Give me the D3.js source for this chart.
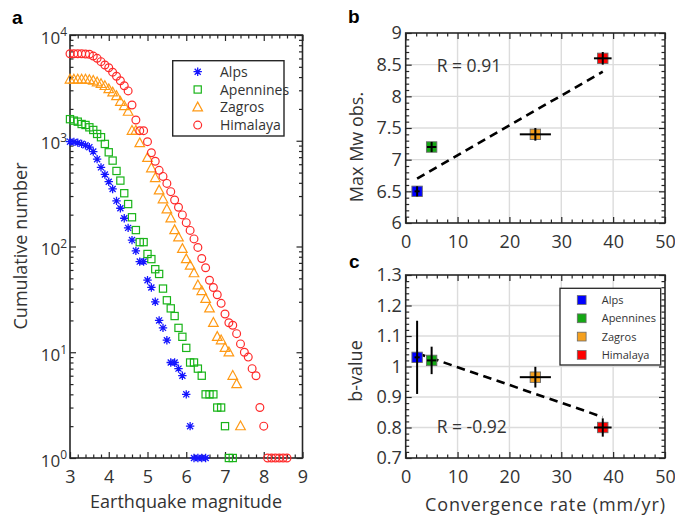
<!DOCTYPE html>
<html>
<head>
<meta charset="utf-8">
<script src="https://cdn.jsdelivr.net/npm/d3@7"></script>
<style>
  body { margin: 0; background: #fff; }
  text { font-family: "Open Sans", Lato, sans-serif; fill: #333; }
  .panel-tag { font-family: "Liberation Sans", Arial, sans-serif; font-weight: bold; fill: #000; }
</style>
</head>
<body>
<svg id="fig" width="675" height="517"></svg>
<script>
// ---------- data ----------
const regions = ["Alps", "Apennines", "Zagros", "Himalaya"];

// Cumulative number of events N(>=M) per catalogue
const alpsMag = [3.0,3.1,3.2,3.3,3.4,3.5,3.6,3.7,3.8,3.9,4.0,4.1,4.2,4.3,4.4,4.5,4.6,4.7,4.8,4.9,
                 5.0,5.1,5.2,5.3,5.4,5.5,5.6,5.7,5.8,5.9,6.0,6.1,6.2,6.3,6.4,6.5];
const alpsCount = [980,975,960,935,905,870,790,670,560,480,410,350,270,230,185,150,115,91,72,72,
                   48,41,30,20,17,13,8,8,7,6,4,2,1,1,1,1];

const apenninesMag = [3.0,3.1,3.2,3.3,3.4,3.5,3.6,3.7,3.8,3.9,4.0,4.1,4.2,4.3,4.4,4.5,4.6,4.7,4.8,4.9,
                      5.0,5.1,5.2,5.3,5.4,5.5,5.6,5.7,5.8,5.9,6.0,6.1,6.2,6.3,6.4,6.5,6.6,6.7,6.8,6.9,
                      7.0,7.1,7.2];
const apenninesCount = [1600,1550,1515,1440,1410,1340,1265,1160,1080,933,778,649,518,420,319,252,189,143,110,110,
                        85,76,61,55,40,31,26,22,17,14,11,8,8,7,6,4,4,4,3,3,
                        2,1,1];

const zagrosMag = [3.0,3.1,3.2,3.3,3.4,3.5,3.6,3.7,3.8,3.9,4.0,4.1,4.2,4.3,4.4,4.5,4.6,4.7,4.8,
                   5.0,5.1,5.2,5.3,5.4,5.5,5.6,5.7,5.8,5.9,6.0,6.1,6.2,6.3,6.4,6.5,6.6,6.7,6.8,6.9,
                   7.0,7.1,7.2,7.3,7.4];
const zagrosCount = [3800,3800,3800,3800,3800,3760,3700,3580,3450,3300,3080,2870,2650,2340,2130,1885,1245,1245,950,
                     690,550,445,340,280,225,185,143,122,95,76,66,56,43,38,32,26,19,14,13,
                     11,10,6,5,2];

const himalayaMag = [3.0,3.1,3.2,3.3,3.4,3.5,3.6,3.7,3.8,3.9,4.0,4.1,4.2,4.3,4.4,4.5,4.6,4.7,4.8,4.9,
                     5.0,5.1,5.2,5.3,5.4,5.5,5.6,5.7,5.8,5.9,6.0,6.1,6.2,6.3,6.4,6.5,6.6,6.7,6.8,6.9,
                     7.0,7.1,7.2,7.3,7.4,7.5,7.6,7.7,7.8,7.9,8.0,8.1,8.2,8.3,8.4,8.5,8.6];
const himalayaCount = [6650,6650,6650,6650,6620,6570,6320,6020,5600,5200,4900,4450,4070,3690,3310,2960,2180,1570,1245,1245,
                       980,770,640,525,460,395,330,275,235,199,168,142,118,98,77,63,48,41,35,29,
                       23,19,18,15,12,10,9,7,6,3,2,1,1,1,1,1,1];

// Per-region summary values
const convergenceRate = [2.2, 5, 25, 38];       // mm/yr
const convergenceErr  = [0.5, 0.9, 3, 1.7];
const maxMw           = [6.5, 7.2, 7.4, 8.6];
const maxMwErr        = [0.08, 0.08, 0.1, 0.1];
const bValue          = [1.03, 1.02, 0.965, 0.80];
const bValueErr       = [0.12, 0.045, 0.034, 0.03];

const rLabelB = "R = 0.91";
const rLabelC = "R = -0.92";

// tick values
const magTicks = [3, 4, 5, 6, 7, 8, 9];
const countTicks = [1, 10, 100, 1000, 10000];
const rateTicks = [0, 10, 20, 30, 40, 50];
const mwTicks = [6, 6.5, 7, 7.5, 8, 8.5, 9];
const bTicks = [0.7, 0.8, 0.9, 1, 1.1, 1.2, 1.3];

// ---------- styling ----------
const INK = "#262626";
const FONT = "'Open Sans', Lato, sans-serif";
const lineColors = ["#1515ff", "#19b419", "#ff9a16", "#ff2a2a"];
const fillColors = ["#0000ff", "#14a814", "#f5a01e", "#ff0000"];

const svg = d3.select("#fig");

function styleAxis(g, fontSize) {
  g.select(".domain").remove();
  g.selectAll(".tick line").attr("stroke", INK).attr("stroke-width", 1.2);
  g.selectAll(".tick text").attr("fill", "#333").style("font-size", fontSize + "px")
    .style("font-family", FONT);
}

// draw major + minor inward ticks on all four sides of a box
function boxAxes(x, y, opts) {
  const [x0, x1] = x.range();
  const [y1, y0] = y.range();
  const g = svg.append("g");
  const fs = opts.fontSize;

  // bottom with labels
  const b = g.append("g").attr("transform", `translate(0,${y1})`)
    .call(d3.axisBottom(x).tickValues(opts.xMajor).tickSize(-opts.major).tickPadding(12)
      .tickFormat(opts.xFormat || (d => d)));
  styleAxis(b, fs);
  const bm = g.append("g").attr("transform", `translate(0,${y1})`)
    .call(d3.axisBottom(x).tickValues(opts.xMinor).tickSize(-opts.minor).tickFormat(""));
  styleAxis(bm, fs);
  // top
  const t = g.append("g").attr("transform", `translate(0,${y0})`)
    .call(d3.axisTop(x).tickValues(opts.xMajor).tickSize(-opts.major).tickFormat(""));
  styleAxis(t, fs);
  const tm = g.append("g").attr("transform", `translate(0,${y0})`)
    .call(d3.axisTop(x).tickValues(opts.xMinor).tickSize(-opts.minor).tickFormat(""));
  styleAxis(tm, fs);
  // left with labels
  const l = g.append("g").attr("transform", `translate(${x0},0)`)
    .call(d3.axisLeft(y).tickValues(opts.yMajor).tickSize(-opts.major).tickPadding(opts.yPad)
      .tickFormat(opts.yFormat || (d => d)));
  styleAxis(l, fs);
  const lm = g.append("g").attr("transform", `translate(${x0},0)`)
    .call(d3.axisLeft(y).tickValues(opts.yMinor).tickSize(-opts.minor).tickFormat(""));
  styleAxis(lm, fs);
  // right
  const r = g.append("g").attr("transform", `translate(${x1},0)`)
    .call(d3.axisRight(y).tickValues(opts.yMajor).tickSize(-opts.major).tickFormat(""));
  styleAxis(r, fs);
  const rm = g.append("g").attr("transform", `translate(${x1},0)`)
    .call(d3.axisRight(y).tickValues(opts.yMinor).tickSize(-opts.minor).tickFormat(""));
  styleAxis(rm, fs);

  // frame
  g.append("rect").attr("x", x0).attr("y", y0).attr("width", x1 - x0).attr("height", y1 - y0)
    .attr("fill", "none").attr("stroke", INK).attr("stroke-width", 1.6);
  return { left: l };
}

function grid(x, y, xs, ys) {
  const [x0, x1] = x.range();
  const [y1, y0] = y.range();
  const g = svg.append("g").attr("stroke", "#dcdcdc").attr("stroke-width", 1.4);
  g.selectAll(".gx").data(xs).join("line")
    .attr("x1", d => x(d)).attr("x2", d => x(d)).attr("y1", y0).attr("y2", y1);
  g.selectAll(".gy").data(ys).join("line")
    .attr("x1", x0).attr("x2", x1).attr("y1", d => y(d)).attr("y2", d => y(d));
}

// marker shapes for the magnitude-frequency panel
function marker(sel, kind, color) {
  if (kind === 0) {           // asterisk
    const s = 4.2, d = s * 0.72;
    sel.append("path")
      .attr("d", `M${-s},0H${s}M0,${-s}V${s}M${-d},${-d}L${d},${d}M${-d},${d}L${d},${-d}`)
      .attr("stroke", color).attr("stroke-width", 1.3).attr("fill", "none");
  } else if (kind === 1) {    // open square
    sel.append("rect").attr("x", -3.6).attr("y", -3.6).attr("width", 7.2).attr("height", 7.2)
      .attr("fill", "none").attr("stroke", color).attr("stroke-width", 1.2);
  } else if (kind === 2) {    // open triangle
    sel.append("path").attr("d", "M0,-5.2L4.8,3.6L-4.8,3.6Z")
      .attr("fill", "none").attr("stroke", color).attr("stroke-width", 1.2);
  } else {                    // open circle
    sel.append("circle").attr("r", 3.9)
      .attr("fill", "none").attr("stroke", color).attr("stroke-width", 1.2);
  }
}

// ---------- panel a ----------
const xA = d3.scaleLinear().domain([3, 9]).range([70, 302.5]);
const yA = d3.scaleLog().domain([1, 10000]).range([458, 35]);

const minorMag = d3.range(3, 9.0001, 0.2).filter(v => Math.abs(v - Math.round(v)) > 1e-6);
const minorCount = [];
[1, 10, 100, 1000].forEach(dec => { for (let k = 2; k <= 9; k++) minorCount.push(k * dec); });

const axA = boxAxes(xA, yA, {
  xMajor: magTicks, xMinor: minorMag, yMajor: countTicks, yMinor: minorCount,
  major: 6, minor: 3.5, fontSize: 18, yPad: 3, yFormat: () => ""
});
// power-of-ten labels
axA.left.selectAll(".tick text").each(function (d) {
  const t = d3.select(this).attr("dy", "0.48em").style("font-size", "17px");
  t.text(null);
  t.append("tspan").text("10");
  t.append("tspan").attr("dy", "-0.6em").style("font-size", "12px").text(Math.round(Math.log10(d)));
});

const seriesA = [
  { mag: alpsMag, count: alpsCount },
  { mag: apenninesMag, count: apenninesCount },
  { mag: zagrosMag, count: zagrosCount },
  { mag: himalayaMag, count: himalayaCount }
];
seriesA.forEach((s, i) => {
  const pts = s.mag.map((m, j) => [m, s.count[j]]);
  const g = svg.append("g");
  g.selectAll("g").data(pts).join("g")
    .attr("transform", d => `translate(${xA(d[0])},${yA(d[1])})`)
    .each(function () { marker(d3.select(this), i, lineColors[i]); });
});

// legend a
const legA = svg.append("g");
legA.append("rect").attr("x", 172.7).attr("y", 60.7).attr("width", 111.3).attr("height", 75.3)
  .attr("fill", "#fff").attr("stroke", INK).attr("stroke-width", 1.4);
regions.forEach((name, i) => {
  const yy = 71.7 + i * 17.8;
  marker(legA.append("g").attr("transform", `translate(197.7,${yy})`), i, lineColors[i]);
  legA.append("text").attr("x", 220).attr("y", yy).attr("dy", "0.36em")
    .style("font-size", "14px").text(name);
});

svg.append("text").attr("transform", "translate(27,246) rotate(-90)")
  .attr("text-anchor", "middle").style("font-size", "18px")
  .attr("textLength", 167).attr("lengthAdjust", "spacing").text("Cumulative number");
svg.append("text").attr("x", 186).attr("y", 508).attr("text-anchor", "middle")
  .style("font-size", "18px").attr("textLength", 192).attr("lengthAdjust", "spacing")
  .text("Earthquake magnitude");
svg.append("text").attr("class", "panel-tag").attr("x", 12).attr("y", 24)
  .style("font-size", "19px").text("a");

// ---------- shared helpers for panels b and c ----------
function regression(xs, ys) {
  const mx = d3.mean(xs), my = d3.mean(ys);
  const sxy = d3.sum(xs, (v, i) => (v - mx) * (ys[i] - my));
  const sxx = d3.sum(xs, v => (v - mx) * (v - mx));
  const slope = sxy / sxx;
  return { slope, intercept: my - slope * mx };
}

function scatterPanel(x, y, vals, errs, tickVals, minorY, fmt, rText, rY) {
  grid(x, y, [10, 20, 30, 40], tickVals.slice(1, -1));
  boxAxes(x, y, {
    xMajor: rateTicks, xMinor: d3.range(2, 50, 2).filter(v => v % 10 !== 0),
    yMajor: tickVals, yMinor: minorY, major: 6, minor: 3.5, fontSize: 18, yPad: 4, yFormat: fmt
  });

  const fit = regression(convergenceRate, vals);
  const xr = d3.extent(convergenceRate);
  svg.append("line")
    .attr("x1", x(xr[0])).attr("y1", y(fit.intercept + fit.slope * xr[0]))
    .attr("x2", x(xr[1])).attr("y2", y(fit.intercept + fit.slope * xr[1]))
    .attr("stroke", "#000").attr("stroke-width", 2.6).attr("stroke-dasharray", "8.5,5.5");

  const pts = convergenceRate.map((r, i) => ({ r, v: vals[i], ex: convergenceErr[i], ey: errs[i], i }));
  const g = svg.append("g");
  g.selectAll("rect").data(pts).join("rect")
    .attr("x", d => x(d.r) - 5.2).attr("y", d => y(d.v) - 5.2)
    .attr("width", 10.4).attr("height", 10.4)
    .attr("fill", d => fillColors[d.i]).attr("stroke", "#6a6a6a").attr("stroke-width", 0.9);
  g.selectAll(".eh").data(pts).join("line")
    .attr("x1", d => x(d.r - d.ex)).attr("x2", d => x(d.r + d.ex))
    .attr("y1", d => y(d.v)).attr("y2", d => y(d.v))
    .attr("stroke", "#000").attr("stroke-width", 2);
  g.selectAll(".ev").data(pts).join("line")
    .attr("x1", d => x(d.r)).attr("x2", d => x(d.r))
    .attr("y1", d => y(d.v - d.ey)).attr("y2", d => y(d.v + d.ey))
    .attr("stroke", "#000").attr("stroke-width", 2);

  svg.append("text").attr("x", 436.7).attr("y", rY).style("font-size", "17.5px").text(rText);
}

// ---------- panel b ----------
const xB = d3.scaleLinear().domain([0, 50]).range([405.7, 665]);
const yB = d3.scaleLinear().domain([6, 9]).range([223, 33]);
scatterPanel(xB, yB, maxMw, maxMwErr, mwTicks,
  d3.range(6.1, 9, 0.1).filter(v => Math.abs(v * 2 - Math.round(v * 2)) > 1e-6),
  d => String(d), rLabelB, 71.7);
svg.append("text").attr("transform", "translate(363,147) rotate(-90)")
  .attr("text-anchor", "middle").style("font-size", "18px").text("Max Mw obs.");
svg.append("text").attr("class", "panel-tag").attr("x", 348).attr("y", 23)
  .style("font-size", "19px").text("b");

// ---------- panel c ----------
const xC = d3.scaleLinear().domain([0, 50]).range([405.7, 665]);
const yC = d3.scaleLinear().domain([0.7, 1.3]).range([458, 275]);
scatterPanel(xC, yC, bValue, bValueErr, bTicks,
  d3.range(0.72, 1.3, 0.02).filter(v => Math.abs(v * 10 - Math.round(v * 10)) > 1e-6),
  d => String(d), rLabelC, 433.3);
svg.append("text").attr("transform", "translate(362,371) rotate(-90)")
  .attr("text-anchor", "middle").style("font-size", "18px").text("b-value");
svg.append("text").attr("x", 545).attr("y", 510.5).attr("text-anchor", "middle")
  .style("font-size", "18px").attr("textLength", 240).attr("lengthAdjust", "spacing")
  .text("Convergence rate (mm/yr)");
svg.append("text").attr("class", "panel-tag").attr("x", 349).attr("y", 268)
  .style("font-size", "19px").text("c");

// legend c
const legC = svg.append("g");
legC.append("rect").attr("x", 560).attr("y", 288.3).attr("width", 100.7).attr("height", 76.7)
  .attr("fill", "#fff").attr("stroke", INK).attr("stroke-width", 1.3);
regions.forEach((name, i) => {
  const yy = 300 + i * 18.3;
  legC.append("rect").attr("x", 581.7 - 4.4).attr("y", yy - 4.4).attr("width", 8.8).attr("height", 8.8)
    .attr("fill", fillColors[i]).attr("stroke", "#6a6a6a").attr("stroke-width", 0.8);
  legC.append("text").attr("x", 601.7).attr("y", yy).attr("dy", "0.36em")
    .style("font-size", "11px").text(name);
});
</script>
</body>
</html>
